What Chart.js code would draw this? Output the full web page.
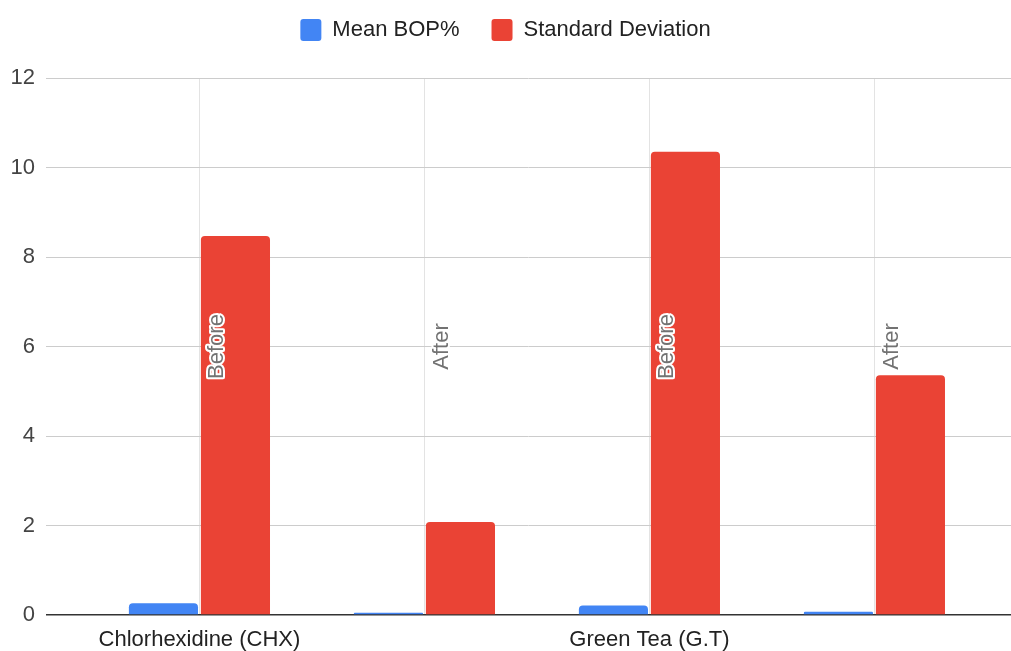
<!DOCTYPE html>
<html>
<head>
<meta charset="utf-8">
<script src="https://cdn.jsdelivr.net/npm/chart.js@4/dist/chart.umd.min.js"></script>
<style>
  html, body { margin: 0; padding: 0; background: #fff; }
  #wrap { width: 1011px; height: 651px; position: relative; }
</style>
</head>
<body>
<div id="wrap"><canvas id="chart"></canvas></div>
<script>
const categories = ['Before', 'After', 'Before', 'After'];
const groups = ['Chlorhexidine (CHX)', '', 'Green Tea (G.T)', ''];
const meanBop = [0.26, 0.05, 0.21, 0.07];
const stdDev = [8.47, 2.08, 10.35, 5.36];
const yTicks = [0, 2, 4, 6, 8, 10, 12];

const FONT = 'Arial, "Liberation Sans", sans-serif';

// extra space under the legend, and legend drawn a bit higher
const legendGap = {
    id: 'legendGap',
    beforeInit(chart) {
        const fit = chart.legend.fit;
        chart.legend.fit = function () {
            fit.bind(chart.legend)();
            this.height += 8;
        };
    },
    afterLayout(chart) {
        chart.legend.top -= 19;
        chart.legend.bottom -= 19;
    }
};

// rotated "Before" / "After" annotations next to each category line
const annotations = {
    id: 'annotations',
    afterDatasetsDraw(chart) {
        const { ctx, chartArea, scales } = chart;
        const midY = (chartArea.top + chartArea.bottom) / 2;
        ctx.save();
        ctx.font = '22px ' + FONT;
        ctx.textAlign = 'center';
        ctx.textBaseline = 'alphabetic';
        ctx.lineJoin = 'round';
        categories.forEach((label, i) => {
            const x = scales.x.getPixelForValue(i) + 23.5;
            ctx.save();
            ctx.translate(x, midY);
            ctx.rotate(-Math.PI / 2);
            ctx.strokeStyle = '#fff';
            ctx.lineWidth = 4;
            ctx.strokeText(label, 0, 0);
            ctx.fillStyle = '#727272';
            ctx.fillText(label, 0, 0);
            ctx.restore();
        });
        ctx.restore();
    }
};

new Chart(document.getElementById('chart'), {
    type: 'bar',
    data: {
        datasets: [{
            label: 'Mean BOP%',
            data: meanBop.map((v, i) => ({ x: i, y: v })),
            backgroundColor: '#4285F4',
            borderRadius: 4,
            categoryPercentage: 0.64,
            barPercentage: 0.96
        }, {
            label: 'Standard Deviation',
            data: stdDev.map((v, i) => ({ x: i, y: v })),
            backgroundColor: '#EA4335',
            borderRadius: 4,
            categoryPercentage: 0.64,
            barPercentage: 0.96
        }]
    },
    options: {
        responsive: true,
        maintainAspectRatio: false,
        animation: false,
        layout: { padding: { top: 6, left: 0, right: 0, bottom: 0 } },
        plugins: {
            tooltip: { enabled: false },
            legend: {
                position: 'top',
                labels: {
                    boxWidth: 21,
                    boxHeight: 22,
                    useBorderRadius: true,
                    borderRadius: 3,
                    padding: 32,
                    color: '#222',
                    font: { family: FONT, size: 22 }
                }
            }
        },
        scales: {
            x: {
                type: 'linear',
                min: -0.682,
                max: 3.607,
                offset: false,
                afterBuildTicks: axis => { axis.ticks = categories.map((c, i) => ({ value: i })); },
                afterFit: axis => { axis.height = 36; },
                grid: { offset: false, color: '#e3e3e3', drawTicks: false },
                border: { display: false },
                ticks: {
                    autoSkip: false,
                    maxRotation: 0,
                    padding: 12,
                    color: '#222',
                    font: { family: FONT, size: 22 },
                    callback: value => groups[value] || ''
                }
            },
            y: {
                min: 0,
                max: 12,
                afterBuildTicks: axis => { axis.ticks = yTicks.map(v => ({ value: v })); },
                afterFit: axis => { axis.width = 46; },
                grid: {
                    drawTicks: false,
                    color: ctx => ctx.tick && ctx.tick.value === 0 ? '#333' : '#ccc',
                    lineWidth: ctx => ctx.tick && ctx.tick.value === 0 ? 1.5 : 1
                },
                border: { display: false },
                ticks: {
                    padding: 11,
                    color: '#444',
                    font: { family: FONT, size: 22 }
                }
            }
        }
    },
    plugins: [legendGap, annotations]
});
</script>
</body>
</html>
